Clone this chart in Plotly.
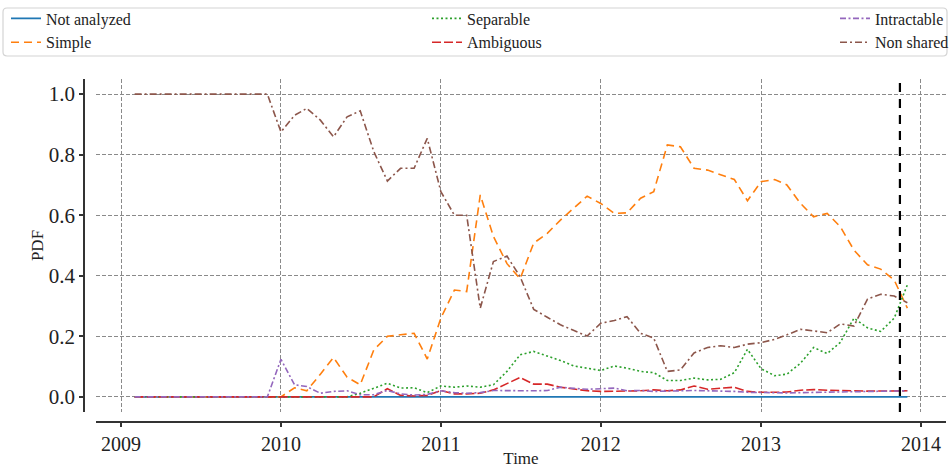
import pandas as pd
import plotly.graph_objects as go

# Monthly series, Feb 2009 .. Dec 2013
month_start = "2009-02-01"
month_end = "2013-12-01"
cutoff_date = "2013-11-14"

series_names = ["Not analyzed", "Simple", "Separable", "Ambiguous", "Intractable", "Non shared"]

not_analyzed = [0.0] * 59

simple = ([0.0] * 11
          + [0.0, 0.03, 0.02, 0.075, 0.13, 0.065, 0.04, 0.155, 0.2, 0.205, 0.21, 0.125]
          + [0.26, 0.353, 0.348, 0.667, 0.53, 0.44, 0.39, 0.508, 0.54, 0.584, 0.623, 0.663]
          + [0.639, 0.606, 0.608, 0.656, 0.678, 0.832, 0.826, 0.755, 0.749, 0.735, 0.718, 0.648]
          + [0.711, 0.718, 0.70, 0.639, 0.595, 0.606, 0.562, 0.485, 0.436, 0.422, 0.386, 0.293])

separable = ([0.0] * 11
             + [0.0, 0.0, 0.0, 0.0, 0.0, 0.0, 0.012, 0.029, 0.045, 0.029, 0.03, 0.014]
             + [0.036, 0.032, 0.036, 0.032, 0.04, 0.084, 0.139, 0.15, 0.135, 0.12, 0.102, 0.095]
             + [0.087, 0.102, 0.095, 0.084, 0.08, 0.054, 0.054, 0.062, 0.056, 0.058, 0.08, 0.157]
             + [0.093, 0.07, 0.075, 0.111, 0.163, 0.143, 0.18, 0.26, 0.228, 0.216, 0.26, 0.37])

ambiguous = ([0.0] * 11
             + [0.0, 0.0, 0.0, 0.0, 0.0, 0.0, 0.0, 0.0, 0.027, 0.005, 0.003, 0.005]
             + [0.021, 0.01, 0.01, 0.012, 0.023, 0.043, 0.064, 0.042, 0.042, 0.032, 0.025, 0.02]
             + [0.018, 0.018, 0.02, 0.02, 0.023, 0.02, 0.023, 0.036, 0.025, 0.028, 0.032, 0.018]
             + [0.015, 0.015, 0.016, 0.022, 0.024, 0.022, 0.02, 0.02, 0.019, 0.019, 0.019, 0.02])

intractable = ([0.0] * 11
               + [0.124, 0.04, 0.034, 0.012, 0.018, 0.02, 0.007, 0.007, 0.021, 0.01, 0.006, 0.008]
               + [0.02, 0.014, 0.012, 0.014, 0.021, 0.02, 0.021, 0.02, 0.021, 0.032, 0.028, 0.025]
               + [0.027, 0.029, 0.02, 0.021, 0.018, 0.018, 0.02, 0.021, 0.02, 0.02, 0.018, 0.015]
               + [0.014, 0.013, 0.013, 0.014, 0.015, 0.014, 0.015, 0.016, 0.017, 0.018, 0.019, 0.02])

non_shared = ([1.0] * 11
              + [0.875, 0.93, 0.953, 0.914, 0.859, 0.925, 0.945, 0.81, 0.713, 0.755, 0.755, 0.854]
              + [0.678, 0.60, 0.60, 0.293, 0.447, 0.465, 0.397, 0.289, 0.263, 0.238, 0.219, 0.201]
              + [0.243, 0.252, 0.265, 0.210, 0.194, 0.084, 0.089, 0.145, 0.163, 0.169, 0.163, 0.174]
              + [0.179, 0.19, 0.205, 0.223, 0.218, 0.212, 0.241, 0.234, 0.323, 0.339, 0.333, 0.311])

y_ticks = [0.0, 0.2, 0.4, 0.6, 0.8, 1.0]
x_tick_years = ["2009", "2010", "2011", "2012", "2013", "2014"]

months = pd.date_range(month_start, month_end, freq="MS")

# ---- styling -------------------------------------------------------------
W, H = 950, 468
ML, MR, MT, MB = 84, 4, 79, 46
PW, PH = W - ML - MR, H - MT - MB
FONT = "Liberation Serif, Times New Roman, serif"
TXT = "#222222"
SPINE = "#333333"


def fx(px):
    return (px - ML) / PW


def fy(py):
    return (H - MB - py) / PH


styles = {
    "Not analyzed": dict(color="#1f77b4", dash="solid", legend="legend"),
    "Simple": dict(color="#ff7f0e", dash="8px,5px", legend="legend"),
    "Separable": dict(color="#2ca02c", dash="2px,2.5px", legend="legend2"),
    "Ambiguous": dict(color="#d62728", dash="9px,3px", legend="legend2"),
    "Intractable": dict(color="#9467bd", dash="6px,2.5px,2px,2.5px", legend="legend3"),
    "Non shared": dict(color="#8c564b", dash="7px,3px,2px,3px", legend="legend3"),
}
values = [not_analyzed, simple, separable, ambiguous, intractable, non_shared]

fig = go.Figure()
for name, ys in zip(series_names, values):
    st = styles[name]
    fig.add_trace(go.Scatter(
        x=months, y=ys, mode="lines", name=name,
        line=dict(color=st["color"], dash=st["dash"], width=1.6),
        legend=st["legend"],
    ))

# x limits padded by 5% of the data span
span = months[-1] - months[0]
x_lo = months[0] - span * 0.05
x_hi = months[-1] + span * 0.05

grid = dict(showgrid=True, gridcolor="#8a8a8a", gridwidth=1, griddash="4px,2px")

fig.update_layout(
    width=W, height=H,
    margin=dict(l=ML, r=MR, t=MT, b=MB, autoexpand=False),
    paper_bgcolor="white", plot_bgcolor="white",
    font=dict(family=FONT, color=TXT, size=16),
    xaxis=dict(
        type="date", range=[x_lo, x_hi], domain=[fx(96), 1],
        anchor="free", position=0, automargin=False,
        tickvals=[pd.Timestamp(y + "-01-01") for y in x_tick_years],
        ticktext=x_tick_years,
        tickfont=dict(size=20, family=FONT, color=TXT),
        showline=True, linecolor=SPINE, linewidth=1.5,
        ticks="outside", ticklen=4, tickwidth=1.5, tickcolor=SPINE,
        zeroline=False,
        title=dict(text="Time", font=dict(size=17, family=FONT, color=TXT), standoff=5),
        **grid,
    ),
    yaxis=dict(
        range=[-0.05, 1.05], domain=[fy(412), 1],
        anchor="free", position=0, automargin=False,
        tickvals=y_ticks, tickformat=".1f",
        tickfont=dict(size=21, family=FONT, color=TXT),
        showline=True, linecolor=SPINE, linewidth=1.5,
        ticks="outside", ticklen=4, tickwidth=1.5, tickcolor=SPINE,
        zeroline=False,
        title=dict(text="PDF", font=dict(size=17, family=FONT, color=TXT), standoff=0),
        **grid,
    ),
)

leg_common = dict(xanchor="left", yanchor="top", bgcolor="rgba(0,0,0,0)",
                  borderwidth=0, font=dict(size=16, family=FONT, color=TXT),
                  itemwidth=30, tracegroupgap=0, orientation="v")
fig.update_layout(
    legend=dict(x=fx(6), y=fy(1.5), **leg_common),
    legend2=dict(x=fx(427), y=fy(1.5), **leg_common),
    legend3=dict(x=fx(835), y=fy(1.5), **leg_common),
)

# legend frame with rounded corners
x0, x1, y0, y1, r = 3, 947, 8, 56, 4
rx, ry = r / PW, r / PH
X0, X1, Y0, Y1 = fx(x0), fx(x1), fy(y1), fy(y0)
frame = (f"M{X0 + rx},{Y1} L{X1 - rx},{Y1} Q{X1},{Y1} {X1},{Y1 - ry} "
         f"L{X1},{Y0 + ry} Q{X1},{Y0} {X1 - rx},{Y0} L{X0 + rx},{Y0} "
         f"Q{X0},{Y0} {X0},{Y0 + ry} L{X0},{Y1 - ry} Q{X0},{Y1} {X0 + rx},{Y1} Z")
fig.add_shape(type="path", path=frame, xref="paper", yref="paper",
              line=dict(color="#d4d4d4", width=1.2), fillcolor="rgba(255,255,255,0.8)",
              layer="below")

# cutoff marker
fig.add_shape(type="line", xref="x", yref="y domain",
              x0=pd.Timestamp(cutoff_date), x1=pd.Timestamp(cutoff_date), y0=0, y1=1,
              line=dict(color="black", width=2.2, dash="9px,7px"))

fig.write_html("out.html")
